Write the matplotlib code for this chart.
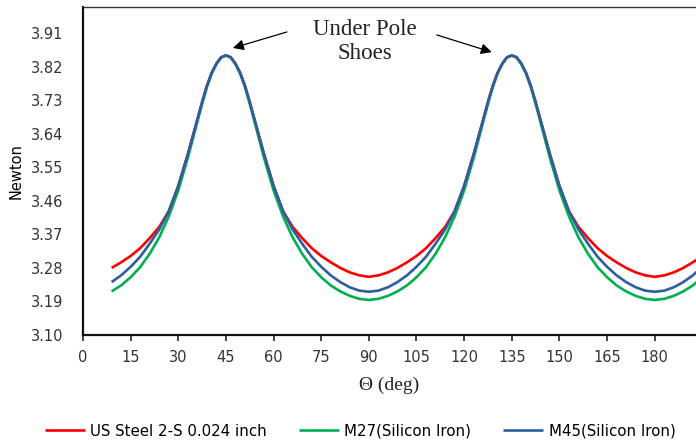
import matplotlib
matplotlib.use("Agg")
import matplotlib.pyplot as plt

# 角度 (deg), 峰值附近加密
theta = [9, 12, 15, 18, 21, 24, 27, 30, 33, 36,
         37.5, 39, 40.5, 42, 43.5, 45, 46.5, 48, 49.5, 51, 52.5, 54,
         57, 60, 63, 66, 69, 72, 75, 78, 81, 84, 87, 90, 93, 96, 99, 102,
         105, 108, 111, 114, 117, 120, 123, 126,
         127.5, 129, 130.5, 132, 133.5, 135, 136.5, 138, 139.5, 141, 142.5, 144,
         147, 150, 153, 156, 159, 162, 165, 168, 171, 174, 177, 180, 183, 186,
         189, 192, 195]

# 力 (Newton)
us_steel = [3.280, 3.295, 3.312, 3.333, 3.360, 3.390, 3.432, 3.500, 3.585, 3.678,
            3.725, 3.768, 3.803, 3.828, 3.845, 3.850, 3.845, 3.828, 3.803, 3.768,
            3.725, 3.678,
            3.585, 3.500, 3.432, 3.390, 3.360, 3.333, 3.312, 3.295, 3.280, 3.268,
            3.260, 3.256, 3.260, 3.268, 3.280, 3.295, 3.312, 3.333, 3.360, 3.390,
            3.432, 3.500, 3.585, 3.678,
            3.725, 3.768, 3.803, 3.828, 3.845, 3.850, 3.845, 3.828, 3.803, 3.768,
            3.725, 3.678,
            3.585, 3.500, 3.432, 3.390, 3.360, 3.333, 3.312, 3.295, 3.280, 3.268,
            3.260, 3.256, 3.260, 3.268, 3.280, 3.295, 3.312]
m27 = [3.217, 3.233, 3.255, 3.282, 3.318, 3.362, 3.418, 3.488, 3.575, 3.672,
       3.720, 3.765, 3.801, 3.827, 3.845, 3.850, 3.845, 3.827, 3.801, 3.765,
       3.720, 3.672,
       3.575, 3.488, 3.418, 3.362, 3.318, 3.282, 3.255, 3.233, 3.217, 3.205,
       3.197, 3.194, 3.197, 3.205, 3.217, 3.233, 3.255, 3.282, 3.318, 3.362,
       3.418, 3.488, 3.575, 3.672,
       3.720, 3.765, 3.801, 3.827, 3.845, 3.850, 3.845, 3.827, 3.801, 3.765,
       3.720, 3.672,
       3.575, 3.488, 3.418, 3.362, 3.318, 3.282, 3.255, 3.233, 3.217, 3.205,
       3.197, 3.194, 3.197, 3.205, 3.217, 3.233, 3.255]
m45 = [3.242, 3.260, 3.283, 3.310, 3.345, 3.383, 3.432, 3.500, 3.585, 3.678,
       3.725, 3.768, 3.803, 3.828, 3.845, 3.850, 3.845, 3.828, 3.803, 3.768,
       3.725, 3.678,
       3.585, 3.500, 3.432, 3.383, 3.345, 3.310, 3.283, 3.260, 3.242, 3.228,
       3.219, 3.216, 3.219, 3.228, 3.242, 3.260, 3.283, 3.310, 3.345, 3.383,
       3.432, 3.500, 3.585, 3.678,
       3.725, 3.768, 3.803, 3.828, 3.845, 3.850, 3.845, 3.828, 3.803, 3.768,
       3.725, 3.678,
       3.585, 3.500, 3.432, 3.383, 3.345, 3.310, 3.283, 3.260, 3.242, 3.228,
       3.219, 3.216, 3.219, 3.228, 3.242, 3.260, 3.283]

labels = ["US Steel 2-S 0.024 inch", "M27(Silicon Iron)", "M45(Silicon Iron)"]
colors = ["#FF0000", "#00B050", "#2E5E9E"]
x_ticks = [0, 15, 30, 45, 60, 75, 90, 105, 120, 135, 150, 165, 180]
y_ticks = [3.10, 3.19, 3.28, 3.37, 3.46, 3.55, 3.64, 3.73, 3.82, 3.91]

fig = plt.figure(figsize=(6.96, 4.44), dpi=100)
ax = fig.add_axes([83 / 696, 109 / 444, 1 - 83 / 696, 328 / 444])

# 绘制顺序: 红, 绿, 蓝
for ys, lab, c in zip([us_steel, m27, m45], labels, colors):
    ax.plot(theta, ys, color=c, lw=1.9, label=lab, solid_capstyle="butt",
            solid_joinstyle="round")

ax.set_xlim(0, 193)
ax.set_ylim(3.10, 3.98)
ax.set_xticks(x_ticks)
ax.set_yticks(y_ticks)
ax.set_yticklabels(["%.2f" % v for v in y_ticks])
ax.tick_params(axis="x", direction="out", length=4, width=1.2, labelsize=10.5,
               pad=7, colors="#222222")
ax.tick_params(axis="y", length=0, labelsize=10.5, pad=14, colors="#222222")
for lab in ax.get_xticklabels() + ax.get_yticklabels():
    lab.set_color("#333333")

ax.spines["right"].set_visible(False)
ax.spines["left"].set_linewidth(1.6)
ax.spines["bottom"].set_linewidth(1.6)
ax.spines["left"].set_color("#111111")
ax.spines["bottom"].set_color("#111111")
ax.spines["top"].set_linewidth(1.0)
ax.spines["top"].set_color("#333333")

ax.set_ylabel("Newton", fontsize=10.5, labelpad=5)
ax.set_xlabel("\u0398 (deg)", fontsize=14, family="Liberation Serif",
              labelpad=8, color="#222222")

# 标注
ax.text(88.7, 3.888, "Under Pole\nShoes", fontsize=16.5, family="Liberation Serif",
        ha="center", va="center", linespacing=1.2, color="#222222")
arrow = dict(arrowstyle="-|>", color="black", lw=0.9, mutation_scale=16,
             shrinkA=0, shrinkB=0)
ax.annotate("", xy=(47.2, 3.870), xytext=(64.2, 3.913), arrowprops=arrow)
ax.annotate("", xy=(128.7, 3.859), xytext=(111.4, 3.905), arrowprops=arrow)

fig.legend(loc="center", ncol=3, bbox_to_anchor=(360 / 696, 13 / 444),
           frameon=False, fontsize=10.8, handlelength=2.7, columnspacing=2.1,
           handletextpad=0.35)

fig.savefig("out.png", dpi=100)
